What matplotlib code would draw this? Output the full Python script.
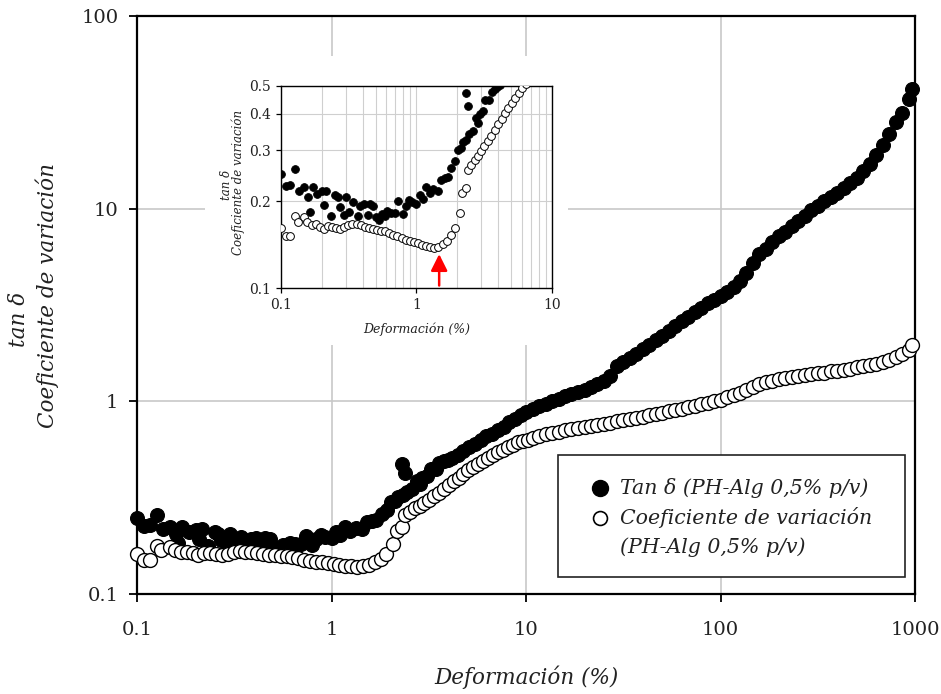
import matplotlib
matplotlib.use("Agg")
import matplotlib.pyplot as plt
from matplotlib.patches import Rectangle
from matplotlib.ticker import FixedLocator, FixedFormatter, NullLocator

plt.rcParams['font.family'] = ['DejaVu Serif']

# ---- data -------------------------------------------------------------
# Tan delta (PH-Alg 0,5% p/v)
strain_tan = [0.100, 0.108, 0.117, 0.126, 0.136, 0.147, 0.158, 0.163, 0.171, 0.185,
              0.200, 0.208, 0.215, 0.233, 0.251, 0.262, 0.271, 0.293, 0.300, 0.316,
              0.342, 0.369, 0.385, 0.410, 0.437, 0.455, 0.480, 0.501, 0.530, 0.560,
              0.584, 0.610, 0.650, 0.700, 0.736, 0.794, 0.830, 0.880, 0.930, 1.000,
              1.060, 1.110, 1.180, 1.250, 1.330, 1.430, 1.520, 1.620, 1.700, 1.810,
              1.940, 2.030, 2.120, 2.200, 2.300, 2.330, 2.400, 2.450, 2.600, 2.760,
              2.850, 2.930, 3.080, 3.230, 3.430, 3.580, 3.770, 3.950, 4.150, 4.450,
              4.770, 5.100, 5.450, 5.850, 6.250, 6.700, 7.170, 7.680, 8.220, 8.800,
              9.420, 10.00, 10.80, 11.70, 12.60, 13.60, 14.70, 15.80, 17.10, 18.50,
              20.00, 21.50, 23.30, 25.10, 27.10, 29.30, 31.60, 34.10, 36.90, 39.80,
              43.00, 46.40, 50.10, 54.10, 58.40, 63.10, 68.10, 73.60, 79.40, 85.80,
              92.60, 100.0, 108.0, 117.0, 126.0, 136.0, 147.0, 158.0, 171.0, 185.0,
              200.0, 215.0, 233.0, 251.0, 271.0, 293.0, 316.0, 341.0, 369.0, 398.0,
              430.0, 464.0, 501.0, 541.0, 584.0, 631.0, 681.0, 736.0, 794.0, 858.0,
              926.0, 965.0]
tan_delta = [0.248, 0.226, 0.228, 0.258, 0.217, 0.223, 0.206, 0.183, 0.223, 0.211,
             0.216, 0.194, 0.217, 0.177, 0.210, 0.206, 0.191, 0.179, 0.206, 0.183,
             0.198, 0.177, 0.192, 0.195, 0.179, 0.195, 0.192, 0.176, 0.172, 0.180,
             0.178, 0.185, 0.182, 0.182, 0.200, 0.180, 0.192, 0.202, 0.198, 0.195,
             0.210, 0.203, 0.224, 0.213, 0.220, 0.217, 0.237, 0.240, 0.243, 0.260,
             0.274, 0.300, 0.305, 0.320, 0.472, 0.325, 0.425, 0.340, 0.350, 0.387,
             0.372, 0.400, 0.410, 0.448, 0.448, 0.478, 0.490, 0.495, 0.505, 0.525,
             0.550, 0.580, 0.600, 0.630, 0.660, 0.680, 0.710, 0.740, 0.780, 0.810,
             0.850, 0.880, 0.910, 0.940, 0.970, 1.000, 1.030, 1.060, 1.090, 1.120,
             1.150, 1.190, 1.230, 1.270, 1.360, 1.520, 1.600, 1.680, 1.770, 1.860,
             1.960, 2.070, 2.190, 2.320, 2.460, 2.600, 2.740, 2.900, 3.060, 3.220,
             3.360, 3.500, 3.680, 3.920, 4.200, 4.650, 5.200, 5.800, 6.200, 6.700,
             7.200, 7.600, 8.100, 8.600, 9.200, 9.800, 10.30, 10.90, 11.50, 12.10,
             12.80, 13.60, 14.50, 15.60, 17.00, 19.00, 21.50, 24.50, 28.00, 31.50,
             37.00, 42.00]

# Coeficiente de variación (PH-Alg 0,5% p/v)
strain_cv = [0.100, 0.108, 0.117, 0.126, 0.133, 0.147, 0.156, 0.168, 0.180, 0.193,
             0.207, 0.222, 0.238, 0.255, 0.274, 0.293, 0.314, 0.337, 0.361, 0.387,
             0.415, 0.445, 0.477, 0.511, 0.548, 0.588, 0.630, 0.675, 0.724, 0.776,
             0.832, 0.892, 0.956, 1.025, 1.099, 1.178, 1.263, 1.354, 1.452, 1.560,
             1.670, 1.790, 1.910, 2.080, 2.180, 2.300, 2.400, 2.540, 2.690, 2.840,
             2.990, 3.170, 3.360, 3.560, 3.780, 4.010, 4.250, 4.500, 4.770, 5.060,
             5.370, 5.690, 6.030, 6.400, 6.790, 7.200, 7.630, 8.090, 8.580, 9.100,
             9.650, 10.23, 10.80, 11.70, 12.60, 13.60, 14.70, 15.80, 17.10, 18.50,
             20.00, 21.50, 23.30, 25.10, 27.10, 29.30, 31.60, 34.10, 36.90, 39.80,
             43.00, 46.40, 50.10, 54.10, 58.40, 63.10, 68.10, 73.60, 79.40, 85.80,
             92.60, 100.0, 108.0, 117.0, 126.0, 136.0, 147.0, 158.0, 171.0, 185.0,
             200.0, 215.0, 233.0, 251.0, 271.0, 293.0, 316.0, 341.0, 369.0, 398.0,
             430.0, 464.0, 501.0, 541.0, 584.0, 631.0, 681.0, 736.0, 794.0, 858.0,
             926.0, 965.0]
coef_var = [0.161, 0.151, 0.151, 0.177, 0.169, 0.176, 0.169, 0.165, 0.166, 0.163,
            0.160, 0.164, 0.163, 0.161, 0.160, 0.162, 0.165, 0.167, 0.166, 0.165,
            0.163, 0.161, 0.160, 0.159, 0.158, 0.157, 0.155, 0.153, 0.151, 0.149,
            0.147, 0.146, 0.144, 0.143, 0.141, 0.140, 0.139, 0.138, 0.139, 0.142,
            0.146, 0.152, 0.161, 0.182, 0.213, 0.222, 0.256, 0.267, 0.278, 0.287,
            0.297, 0.309, 0.322, 0.336, 0.352, 0.368, 0.385, 0.402, 0.420, 0.438,
            0.456, 0.474, 0.492, 0.510, 0.527, 0.545, 0.562, 0.580, 0.596, 0.612,
            0.624, 0.632, 0.645, 0.660, 0.673, 0.685, 0.696, 0.706, 0.716, 0.726,
            0.736, 0.746, 0.756, 0.766, 0.776, 0.786, 0.797, 0.808, 0.820, 0.832,
            0.845, 0.858, 0.872, 0.886, 0.900, 0.915, 0.930, 0.946, 0.963, 0.981,
            1.000, 1.020, 1.050, 1.080, 1.110, 1.150, 1.190, 1.230, 1.260, 1.280,
            1.300, 1.320, 1.340, 1.350, 1.370, 1.380, 1.400, 1.410, 1.430, 1.440,
            1.460, 1.480, 1.500, 1.520, 1.540, 1.570, 1.600, 1.640, 1.690, 1.760,
            1.850, 1.950]

main_xticks = [0.1, 1, 10, 100, 1000]
main_xticklabels = ['0.1', '1', '10', '100', '1000']
main_yticks = [0.1, 1, 10, 100]
main_yticklabels = ['0.1', '1', '10', '100']
inset_xticks = [0.1, 1, 10]
inset_xticklabels = ['0.1', '1', '10']
inset_yticks = [0.1, 0.2, 0.3, 0.4, 0.5]
inset_yticklabels = ['0.1', '0.2', '0.3', '0.4', '0.5']
inset_xminor = [0.2, 0.3, 0.4, 0.5, 0.6, 0.7, 0.8, 0.9, 2, 3, 4, 5, 6, 7, 8, 9]
arrow_strain = 1.47
arrow_from, arrow_to = 0.102, 0.131

label_tan = 'Tan δ (PH-Alg 0,5% p/v)'
label_cv = ['Coeficiente de variación', '(PH-Alg 0,5% p/v)']
ylabel_top = 'tan δ'
ylabel_bottom = 'Coeficiente de variación'

TEXT = '#222222'

# ---- figure -----------------------------------------------------------
fig = plt.figure(figsize=(9.41, 6.94), dpi=100)
fig.patch.set_facecolor('white')

ax = fig.add_axes([0.1456, 0.1441, 0.8268, 0.8329], zorder=0)
ax.set_xscale('log')
ax.set_yscale('log')
ax.set_xlim(0.1, 1000)
ax.set_ylim(0.1, 100)
ax.xaxis.set_major_locator(FixedLocator(main_xticks))
ax.xaxis.set_major_formatter(FixedFormatter(main_xticklabels))
ax.yaxis.set_major_locator(FixedLocator(main_yticks))
ax.yaxis.set_major_formatter(FixedFormatter(main_yticklabels))
ax.xaxis.set_minor_locator(NullLocator())
ax.yaxis.set_minor_locator(NullLocator())
ax.grid(True, which='major', color='#c8c8c8', lw=1.2)
ax.set_axisbelow(True)
for s in ax.spines.values():
    s.set_linewidth(1.6)
    s.set_color('black')
ax.tick_params(direction='out', length=5.5, width=1.3, labelsize=14,
               labelcolor=TEXT)
ax.tick_params(axis='x', pad=14)
ax.tick_params(axis='y', pad=8)

ax.plot(strain_tan, tan_delta, 'o', ls='none', ms=10, mfc='black',
        mec='black', mew=0.8, zorder=3, clip_on=False)
ax.plot(strain_cv, coef_var, 'o', ls='none', ms=10, mfc='white',
        mec='black', mew=1.0, zorder=4, clip_on=False)

ax.set_xlabel('Deformación (%)', fontsize=15.5, style='italic',
              color=TEXT, labelpad=19)

# two-line y label: "tan δ" above "Coeficiente de variación"
fig.text(0.0505, 0.5735, ylabel_bottom, rotation=90,
         ha='center', va='center', style='italic', fontsize=15.5, color=TEXT)
fig.text(0.0200, 0.5400, ylabel_top, rotation=90, ha='center', va='center',
         style='italic', fontsize=15.5, color=TEXT)

# legend box
ax.add_patch(Rectangle((0.541, 0.0294), 0.446, 0.2111, transform=ax.transAxes,
                       facecolor='white', edgecolor=TEXT, lw=1.2, zorder=6))
ax.plot([0.595], [0.1834], 'o', transform=ax.transAxes, ms=11.5, mfc='black',
        mec='black', zorder=7, clip_on=False)
ax.plot([0.595], [0.1315], 'o', transform=ax.transAxes, ms=10, mfc='white',
        mec='black', mew=1.2, zorder=7, clip_on=False)
ax.text(0.621, 0.1834, label_tan, transform=ax.transAxes, ha='left',
        va='center', style='italic', fontsize=14.8, color=TEXT, zorder=7)
ax.text(0.621, 0.1315, label_cv[0], transform=ax.transAxes, ha='left',
        va='center', style='italic', fontsize=14.8, color=TEXT, zorder=7)
ax.text(0.621, 0.0813, label_cv[1], transform=ax.transAxes, ha='left',
        va='center', style='italic', fontsize=14.8, color=TEXT, zorder=7)

# ---- inset ------------------------------------------------------------
fig.add_artist(Rectangle((0.2179, 0.5029), 0.3858, 0.4164,
                         transform=fig.transFigure, facecolor='white',
                         edgecolor='none', zorder=1))

axi = fig.add_axes([0.2986, 0.5850, 0.2880, 0.2911], zorder=2)
axi.set_xscale('log')
axi.set_yscale('log')
axi.set_xlim(0.1, 10)
axi.set_ylim(0.1, 0.5)
axi.xaxis.set_major_locator(FixedLocator(inset_xticks))
axi.xaxis.set_major_formatter(FixedFormatter(inset_xticklabels))
axi.xaxis.set_minor_locator(FixedLocator(inset_xminor))
axi.yaxis.set_major_locator(FixedLocator(inset_yticks))
axi.yaxis.set_major_formatter(FixedFormatter(inset_yticklabels))
axi.yaxis.set_minor_locator(NullLocator())
axi.xaxis.grid(True, which='both', color='#cfcfcf', lw=0.8)
axi.yaxis.grid(True, which='major', color='#cfcfcf', lw=0.8)
axi.set_axisbelow(True)
for s in axi.spines.values():
    s.set_linewidth(1.0)
    s.set_color('black')
axi.tick_params(which='major', direction='out', length=3.5, width=0.9,
                labelsize=10, labelcolor=TEXT, pad=4)
axi.tick_params(which='minor', length=0)

axi.plot(strain_tan, tan_delta, 'o', ls='none', ms=5.6, mfc='black',
         mec='black', mew=0.6, zorder=3)
axi.plot(strain_cv, coef_var, 'o', ls='none', ms=5.6, mfc='white',
         mec='black', mew=0.7, zorder=4)

axi.annotate('', xy=(arrow_strain, arrow_to), xytext=(arrow_strain, arrow_from),
             arrowprops=dict(arrowstyle='-|>,head_length=0.5,head_width=0.25',
                             color='#ff0000', lw=1.8, mutation_scale=20,
                             shrinkA=0, shrinkB=0), zorder=5)

axi.set_xlabel('Deformación (%)', fontsize=9, style='italic',
               color=TEXT, labelpad=7)
fig.text(0.2535, 0.7378, ylabel_bottom, rotation=90,
         ha='center', va='center', style='italic', fontsize=8.5, color=TEXT)
fig.text(0.2410, 0.7330, ylabel_top, rotation=90, ha='center', va='center',
         style='italic', fontsize=8.5, color=TEXT)

fig.savefig('out.png', dpi=100, facecolor='white')
